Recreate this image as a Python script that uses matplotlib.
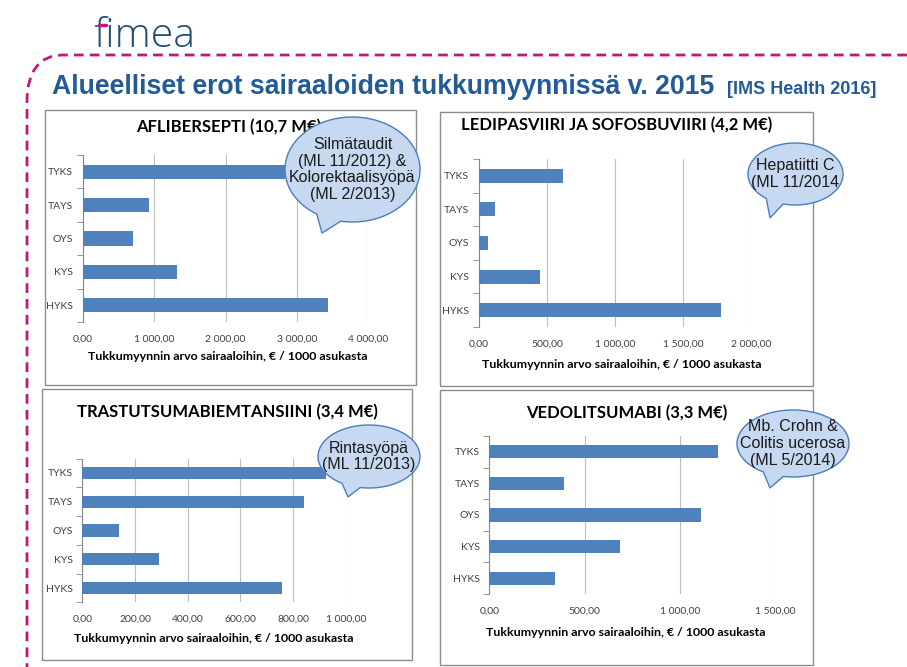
import numpy as np
import matplotlib
matplotlib.use("Agg")
import matplotlib.pyplot as plt
from matplotlib.patches import Rectangle, Polygon, PathPatch
from matplotlib.path import Path

W, H = 907, 667

# ---------- data ----------
regions = ["HYKS", "KYS", "OYS", "TAYS", "TYKS"]  # bottom -> top

aflibersepti = [3430, 1325, 705, 935, 2830]
ledipasviiri = [1780, 450, 65, 115, 615]
trastutsumabi = [760, 290, 140, 840, 925]
vedolitsumabi = [345, 685, 1110, 390, 1200]

titles = ["AFLIBERSEPTI (10,7 M€)", "LEDIPASVIIRI JA SOFOSBUVIIRI (4,2 M€)",
          "TRASTUTSUMABIEMTANSIINI (3,4 M€)", "VEDOLITSUMABI (3,3 M€)"]
xlabel = "Tukkumyynnin arvo sairaaloihin, € / 1000 asukasta"
notes = ["Silmätaudit\n(ML 11/2012) &\nKolorektaalisyöpä\n(ML 2/2013)",
         "Hepatiitti C\n(ML 11/2014",
         "Rintasyöpä\n(ML 11/2013)",
         "Mb. Crohn &\nColitis ucerosa\n(ML 5/2014)"]

BAR = "#4F81BD"
BLUE = "#235B97"
MAGENTA = "#C0177F"


def fmt(v):
    return f"{v:,.2f}".replace(",", " ").replace(".", ",")


fig = plt.figure(figsize=(W / 100, H / 100), dpi=100)

# background layer in pixel coordinates
bg = fig.add_axes([0, 0, 1, 1], zorder=-1)
bg.set_xlim(0, W)
bg.set_ylim(H, 0)
bg.axis("off")

# fimea logo + dashed frame
bg.text(93, 47, "fimea", fontsize=29.5, color="#1F4E79", family="Open Sans",
        fontweight="light", va="baseline", ha="left")
bg.plot([99, 106], [25, 25], color=MAGENTA, lw=2.5, solid_capstyle="round",
        zorder=6)
frame = Path([(907, 55), (62, 55), (28, 56), (27, 100), (27, 667)],
             [Path.MOVETO, Path.LINETO, Path.CURVE3, Path.CURVE3, Path.LINETO])
bg.add_patch(PathPatch(frame, fill=False, ec=MAGENTA, lw=2, ls=(0, (3.5, 2.2))))

bg.text(52, 94, "Alueelliset erot sairaaloiden tukkumyynnissä v. 2015",
        fontsize=19.2, fontweight="bold", color=BLUE, family="Liberation Sans",
        va="baseline")
bg.text(727, 94, "[IMS Health 2016]", fontsize=13, fontweight="bold",
        color=BLUE, family="Liberation Sans", va="baseline")

# panel boxes (l, t, r, b) in px
boxes = [(45, 110, 416, 385), (440, 112, 813, 386),
         (42, 389, 412, 660), (440, 390, 813, 665)]
for l, t, r, b in boxes:
    bg.add_patch(Rectangle((l, t), r - l, b - t, fc="white", ec="#8C8C8C", lw=1))

# ---------- charts ----------
panels = [
    # values, xmax, step, plot area (l, t, r, b), title xy, xlabel xy
    (aflibersepti, 4000, 1000, (82.7, 155, 368.3, 322), (229, 127), (228, 357)),
    (ledipasviiri, 2000, 500, (479, 159, 751, 327), (617, 125), (622, 364)),
    (trastutsumabi, 1000, 200, (82.3, 458.6, 345.7, 602.4), (227, 412), (214, 638)),
    (vedolitsumabi, 1500, 500, (489.3, 436, 775.3, 594), (627, 413), (626, 632)),
]

for i, (vals, xmax, step, (l, t, r, b), tpos, lpos) in enumerate(panels):
    ax = fig.add_axes([l / W, 1 - b / H, (r - l) / W, (b - t) / H])
    ax.set_facecolor("none")
    y = np.arange(len(regions))
    ax.barh(y, vals, height=0.42, color=BAR, zorder=3)
    ax.set_xlim(0, xmax)
    ax.set_ylim(-0.5, len(regions) - 0.5)
    ticks = np.arange(0, xmax + 1, step)
    ax.set_xticks(ticks)
    ax.set_xticklabels([fmt(v) for v in ticks], family="Lato", fontsize=7.5,
                       color="#404040")
    ax.set_yticks(y)
    ax.set_yticklabels(regions, family="Lato", fontsize=7.5, color="#404040")
    ax.set_yticks(np.arange(-0.5, len(regions), 1), minor=True)
    ax.tick_params(axis="x", length=0, pad=9)
    ax.tick_params(axis="y", which="major", length=0, pad=7)
    ax.tick_params(axis="y", which="minor", length=4, color="#868686",
                   direction="out")
    ax.xaxis.grid(True, color="#BEBEBE", lw=0.8)
    ax.set_axisbelow(True)
    for s in ("top", "right", "bottom"):
        ax.spines[s].set_visible(False)
    ax.spines["left"].set_color("#868686")
    bg.text(tpos[0], tpos[1], titles[i], family="Lato", fontweight="bold",
            fontsize=12, ha="center", va="center", color="#000000")
    bg.text(lpos[0], lpos[1], xlabel, family="Lato", fontweight="bold",
            fontsize=8.9, ha="center", va="center", color="#000000")

# ---------- callouts ----------
fg = fig.add_axes([0, 0, 1, 1], zorder=10)
fg.set_xlim(0, W)
fg.set_ylim(H, 0)
fg.axis("off")
fg.patch.set_visible(False)

callouts = [
    # ellipse (l, t, r, b), tail base angles, tip
    ((285, 117, 420, 222), (100, 122), (322, 233)),
    ((748, 143, 843, 205), (105, 128), (770, 218)),
    ((318, 425, 420, 488), (100, 122), (348, 497)),
    ((737, 410, 849, 477), (100, 122), (770, 488)),
]
for k, ((l, t, r, b), (a1, a2), tip) in enumerate(callouts):
    cx, cy = (l + r) / 2, (t + b) / 2
    rx, ry = (r - l) / 2, (b - t) / 2
    th = np.radians(np.linspace(a2, a1 + 360, 200))
    pts = np.column_stack([cx + rx * np.cos(th), cy + ry * np.sin(th)])
    pts = np.vstack([pts, tip])
    fg.add_patch(Polygon(pts, closed=True, fc="#C6D9F1", ec="#4A7EBB", lw=1))
    fg.text(cx, cy, notes[k], family="Liberation Sans", fontsize=11.5,
            ha="center", va="center", color="#1A1A1A", linespacing=1.15)

fig.savefig("out.png", dpi=100, facecolor="white")
